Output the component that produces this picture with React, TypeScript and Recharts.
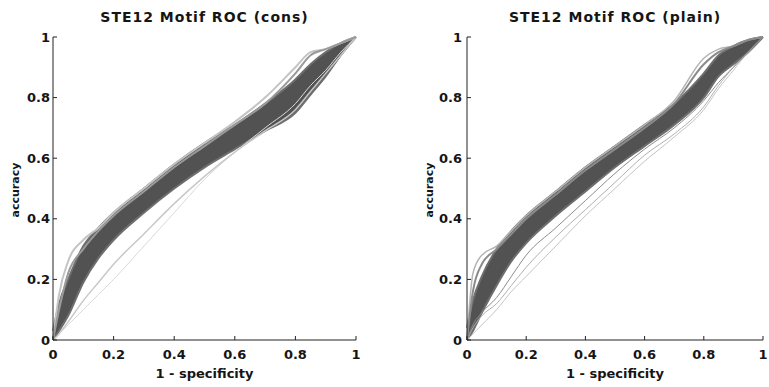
import { Area, ComposedChart, Line, XAxis, YAxis } from 'recharts'

// shared false-positive-rate grid (1 - specificity)
const fpr = [0, 0.02, 0.05, 0.1, 0.15, 0.2, 0.3, 0.4, 0.5, 0.6, 0.7, 0.8, 0.85, 0.9, 0.95, 1]
const tickValues = [0, 0.2, 0.4, 0.6, 0.8, 1]

// STE12 (cons)
const consBandLow = [0, 0.03, 0.08, 0.19, 0.27, 0.33, 0.42, 0.5, 0.57, 0.63, 0.69, 0.75, 0.81, 0.87, 0.94, 1]
const consBandHigh = [0.03, 0.12, 0.2, 0.31, 0.37, 0.42, 0.5, 0.58, 0.65, 0.71, 0.78, 0.86, 0.91, 0.95, 0.98, 1]
const consUpperA = [0, 0.15, 0.26, 0.33, 0.37, 0.42, 0.5, 0.58, 0.65, 0.72, 0.8, 0.9, 0.95, 0.96, 0.98, 1]
const consUpperB = [0, 0.1, 0.22, 0.3, 0.36, 0.41, 0.49, 0.57, 0.64, 0.71, 0.78, 0.88, 0.94, 0.96, 0.98, 1]
const consLowerA = [0, 0.02, 0.06, 0.13, 0.19, 0.25, 0.35, 0.45, 0.54, 0.62, 0.69, 0.76, 0.82, 0.88, 0.94, 1]
const consLowerB = [0, 0.02, 0.05, 0.1, 0.15, 0.2, 0.31, 0.42, 0.53, 0.62, 0.7, 0.78, 0.84, 0.89, 0.95, 1]

// STE12 (plain)
const plainBandLow = [0, 0.03, 0.09, 0.18, 0.26, 0.32, 0.41, 0.49, 0.57, 0.64, 0.71, 0.8, 0.87, 0.91, 0.95, 1]
const plainBandHigh = [0.04, 0.13, 0.21, 0.3, 0.36, 0.41, 0.49, 0.57, 0.64, 0.71, 0.78, 0.88, 0.94, 0.97, 0.99, 1]
const plainUpperA = [0, 0.22, 0.28, 0.31, 0.36, 0.41, 0.49, 0.57, 0.64, 0.71, 0.79, 0.93, 0.96, 0.97, 0.99, 1]
const plainUpperB = [0, 0.16, 0.25, 0.3, 0.35, 0.4, 0.48, 0.56, 0.63, 0.7, 0.78, 0.91, 0.95, 0.97, 0.99, 1]
const plainLowerA = [0, 0.05, 0.09, 0.14, 0.21, 0.28, 0.37, 0.46, 0.55, 0.63, 0.7, 0.79, 0.85, 0.9, 0.95, 1]
const plainLowerB = [0, 0.04, 0.08, 0.12, 0.18, 0.24, 0.34, 0.43, 0.52, 0.61, 0.68, 0.77, 0.84, 0.9, 0.95, 1]
const plainLowest = [0, 0.02, 0.05, 0.1, 0.16, 0.21, 0.31, 0.41, 0.5, 0.59, 0.67, 0.76, 0.83, 0.89, 0.95, 1]

const font = 'DejaVu Sans, Arial, sans-serif'
const ink = '#151515'

type Row = Record<string, number | number[]>
type Trace = { key: string; color: string; width: number }

function buildRows(low: number[], high: number[], lines: Record<string, number[]>): Row[] {
  return fpr.map((x, i) => {
    const row: Row = { x, band: [low[i], high[i]] }
    for (const k of Object.keys(lines)) row[k] = lines[k][i]
    return row
  })
}

const consRows = buildRows(consBandLow, consBandHigh, {
  upperA: consUpperA,
  upperB: consUpperB,
  lowerA: consLowerA,
  lowerB: consLowerB,
})
const consTraces: Trace[] = [
  { key: 'lowerB', color: '#dadada', width: 1 },
  { key: 'lowerA', color: '#c8c8c8', width: 1.5 },
  { key: 'upperA', color: '#c4c4c4', width: 2 },
  { key: 'upperB', color: '#9a9a9a', width: 2 },
]

const plainRows = buildRows(plainBandLow, plainBandHigh, {
  upperA: plainUpperA,
  upperB: plainUpperB,
  lowerA: plainLowerA,
  lowerB: plainLowerB,
  lowest: plainLowest,
})
const plainTraces: Trace[] = [
  { key: 'lowest', color: '#c4c4c4', width: 1 },
  { key: 'lowerB', color: '#b0b0b0', width: 1 },
  { key: 'lowerA', color: '#8c8c8c', width: 1 },
  { key: 'upperA', color: '#b4b4b4', width: 1.5 },
  { key: 'upperB', color: '#8a8a8a', width: 2 },
]

const tickStyle = { fill: ink, fontSize: 13, fontWeight: 'bold', fontFamily: font }

function RocPanel({
  title,
  rows,
  traces,
  width,
  yAxisWidth,
  rightMargin,
  yLabelX,
  tickGap,
}: {
  title: string
  rows: Row[]
  traces: Trace[]
  width: number
  yAxisWidth: number
  rightMargin: number
  yLabelX: number
  tickGap: number
}) {
  const plotCenter = yAxisWidth + (width - yAxisWidth - rightMargin) / 2
  return (
    <div style={{ position: 'relative', width, height: 387 }}>
      <div
        style={{
          position: 'absolute',
          left: plotCenter - 150,
          width: 300,
          top: 9,
          textAlign: 'center',
          fontFamily: font,
          fontWeight: 'bold',
          fontSize: 14,
          letterSpacing: 1,
          color: ink,
        }}
      >
        {title}
      </div>
      <ComposedChart
        width={width}
        height={387}
        data={rows}
        margin={{ top: 37, right: rightMargin, bottom: 0, left: 0 }}
      >
        <XAxis
          dataKey="x"
          type="number"
          domain={[0, 1]}
          ticks={tickValues}
          interval={0}
          height={47}
          tickSize={-4}
          tickMargin={14}
          tick={tickStyle}
          axisLine={{ stroke: '#222' }}
          tickLine={{ stroke: '#222' }}
          label={{
            content: () => (
              <text
                x={plotCenter}
                y={378}
                textAnchor="middle"
                fill={ink}
                fontFamily={font}
                fontWeight="bold"
                fontSize={13}
              >
                1 - specificity
              </text>
            ),
          }}
        />
        <YAxis
          type="number"
          domain={[0, 1]}
          ticks={tickValues}
          interval={0}
          width={yAxisWidth}
          tickSize={-4}
          tickMargin={tickGap}
          tick={tickStyle}
          axisLine={{ stroke: '#222' }}
          tickLine={{ stroke: '#222' }}
          label={{
            content: () => (
              <text
                x={yLabelX}
                y={190}
                transform={`rotate(-90 ${yLabelX} 190)`}
                textAnchor="middle"
                dominantBaseline="central"
                fill={ink}
                fontFamily={font}
                fontWeight="bold"
                fontSize={11}
              >
                accuracy
              </text>
            ),
          }}
        />
        {traces.map((t) => (
          <Line
            key={t.key}
            dataKey={t.key}
            type="monotone"
            stroke={t.color}
            strokeWidth={t.width}
            dot={false}
            isAnimationActive={false}
          />
        ))}
        <Area
          dataKey="band"
          type="monotone"
          fill="#3a3a3a"
          fillOpacity={0.88}
          stroke="#6e6e6e"
          strokeWidth={2}
          isAnimationActive={false}
        />
      </ComposedChart>
    </div>
  )
}

export default function App() {
  return (
    <div style={{ position: 'absolute', left: 0, top: 0, width: 769, height: 387, display: 'flex', background: '#fff' }}>
      <RocPanel
        title="STE12 Motif ROC (cons)"
        rows={consRows}
        traces={consTraces}
        width={384}
        yAxisWidth={53}
        rightMargin={28}
        yLabelX={15}
        tickGap={7}
      />
      <RocPanel
        title="STE12 Motif ROC (plain)"
        rows={plainRows}
        traces={plainTraces}
        width={385}
        yAxisWidth={83}
        rightMargin={6}
        yLabelX={45}
        tickGap={9}
      />
    </div>
  )
}
